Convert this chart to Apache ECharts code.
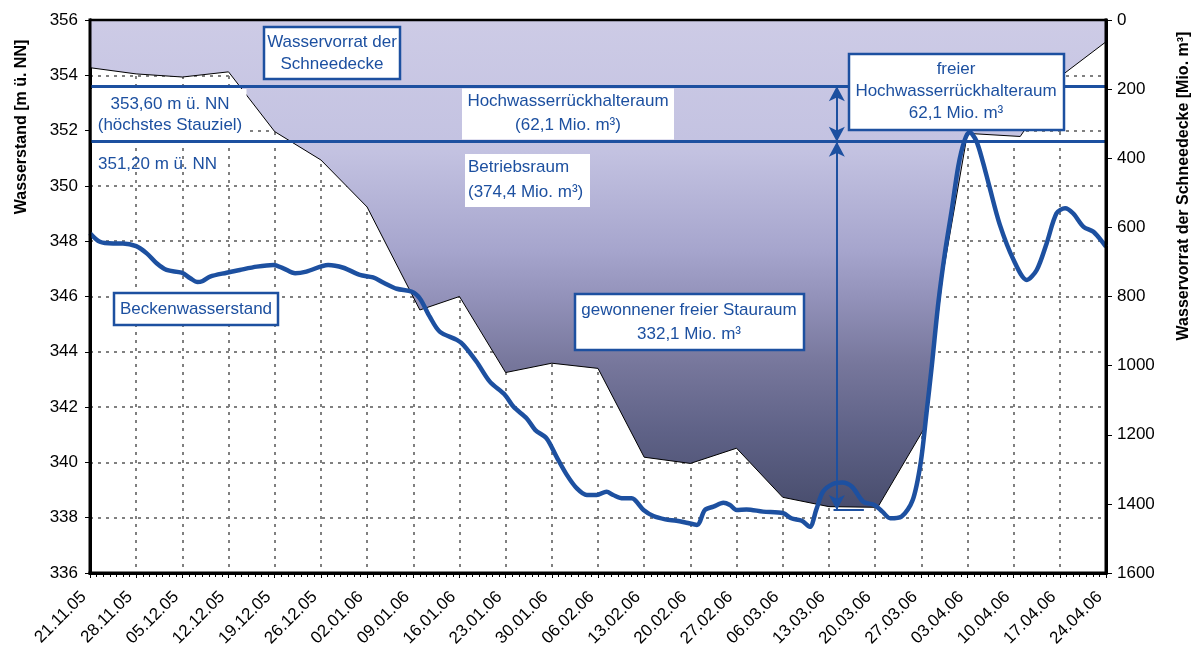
<!DOCTYPE html>
<html><head><meta charset="utf-8">
<script src="https://cdn.jsdelivr.net/npm/echarts@6/dist/echarts.min.js"></script>
<style>html,body{margin:0;padding:0;background:#fff}#c{width:1200px;height:662px}</style>
</head><body><div id="c"></div>
<script>
// x axis: days since 21.11.05, tick labels every 7 days
const dateLabels = ['21.11.05','28.11.05','05.12.05','12.12.05','19.12.05','26.12.05','02.01.06','09.01.06','16.01.06','23.01.06','30.01.06','06.02.06','13.02.06','20.02.06','27.02.06','06.03.06','13.03.06','20.03.06','27.03.06','03.04.06','10.04.06','17.04.06','24.04.06'];

// Beckenwasserstand [m ü. NN]
const levelDays = [0,1.5,3.5,5,7,8.6,10.1,11.6,13.9,15.2,16.3,17,18.2,20.7,22.7,25.3,27.8,29.3,31.1,32.8,36.1,38.4,40.9,42.9,44.5,46.5,48.8,50,51.5,53,55.6,56.6,58.6,60.6,62.9,64.2,66.2,67.5,69.2,70.7,72.3,73.8,75.3,76.8,78.3,79.3,80.8,82.1,83.9,85.4,87.2,88.9,90.4,92,93.2,94.5,96,97,98,99.5,102,105.1,106.3,107.9,109.1,110.1,111.1,112.6,114,115.5,117.2,118.9,120.1,121.3,123,124.7,125.9,126.8,127.6,128.6,129.6,130.6,131.6,132.5,133.3,134.3,135.3,136.3,137.9,140,142,143.5,145,146.5,147.8,149,150.6,152.1,154];
const levelValues = [348.29,347.98,347.92,347.92,347.82,347.56,347.2,346.96,346.86,346.66,346.52,346.55,346.72,346.86,346.96,347.08,347.14,347.02,346.84,346.9,347.14,347.04,346.78,346.69,346.5,346.28,346.17,345.93,345.27,344.73,344.43,344.25,343.64,342.92,342.44,342.01,341.59,341.17,340.87,340.21,339.54,339.06,338.82,338.82,338.94,338.82,338.7,338.7,338.28,338.06,337.94,337.89,337.82,337.74,338.28,338.4,338.54,338.46,338.28,338.3,338.22,338.16,337.98,337.89,337.67,338.3,338.94,339.22,339.27,339.12,338.58,338.46,338.22,337.98,338.04,338.64,339.97,341.8,343.5,345.8,347.6,349.1,350.7,351.6,351.95,351.65,350.9,350.0,348.6,347.32,346.6,346.96,347.92,349.01,349.19,349.01,348.52,348.34,347.8];

// Wasservorrat der Schneedecke [Mio. m³]
const snowDays = [0,7,14,21,28,35,42,50,56,63,70,77,84,91,98,105,112,119.4,126.5,129.3,133,141,147.3,154];
const snowValues = [138,156,165,150,323,405,541,839,800,1020,993,1008,1265,1283,1239,1381,1408,1410,1180,733,328,337,160,63];

// reference levels and arrow annotation (data units)
const levelTop = 353.6;
const levelLow = 351.6;
const arrowDay = 113.2;
const arrowBottom = 338.28;
const baseDays = [112.7, 117.3];

const BLUE = '#1d50a0';
const FONT = '"Liberation Sans", Arial, sans-serif';

const chart = echarts.init(document.getElementById('c'), null, {renderer: 'canvas'});

const levelData = levelDays.map((d, i) => [d, levelValues[i]]);
const snowData = snowDays.map((d, i) => [d, snowValues[i]]);

function txt(x, y, text, align, opts) {
  return Object.assign({
    type: 'text', z: 110,
    style: { x: x, y: y, text: text, fill: BLUE, font: '17px ' + FONT,
      textAlign: align || 'center', textVerticalAlign: 'middle' }
  }, opts || {});
}
function box(x, y, w, h, border) {
  return { type: 'rect', z: 105,
    shape: { x: x, y: y, width: w, height: h },
    style: { fill: '#fff', stroke: border ? BLUE : null, lineWidth: border ? 2.5 : 0 } };
}
function frameLine(x1, y1, x2, y2, w) {
  return { type: 'line', z: 120, shape: { x1, y1, x2, y2 }, style: { stroke: '#000', lineWidth: w } };
}

const option = {
  animation: false,
  backgroundColor: '#fff',
  grid: { left: 90, right: 94, top: 20, bottom: 89 },
  xAxis: {
    type: 'value', min: 0, max: 154, interval: 7,
    axisLine: { show: true, onZero: false, lineStyle: { color: '#000', width: 3 } },
    axisTick: { show: true, length: 5, lineStyle: { color: '#000', width: 1 } },
    minorTick: { show: true, splitNumber: 7, length: 4, lineStyle: { color: '#000', width: 1 } },
    axisLabel: {
      rotate: 45, margin: 15, padding: [0, 9, 0, 0], color: '#000', fontSize: 17, fontFamily: FONT,
      formatter: v => dateLabels[Math.round(v / 7)] || ''
    },
    splitLine: { show: true, lineStyle: { color: '#808080', width: 2, type: [3, 5] } }
  },
  yAxis: [
    {
      type: 'value', min: 336, max: 356, interval: 2, position: 'left',
      axisLine: { show: true, lineStyle: { color: '#000', width: 3 } },
      axisTick: { show: true, length: 5, lineStyle: { color: '#000', width: 1 } },
      axisLabel: { color: '#000', fontSize: 17, fontFamily: FONT, margin: 12, formatter: v => String(v) },
      splitLine: { show: true, lineStyle: { color: '#808080', width: 2, type: [3, 5] } }
    },
    {
      type: 'value', min: 0, max: 1600, interval: 200, position: 'right', inverse: true,
      axisLine: { show: true, lineStyle: { color: '#000', width: 3 } },
      axisTick: { show: true, length: 6, lineStyle: { color: '#000', width: 1 } },
      axisLabel: { color: '#000', fontSize: 17, fontFamily: FONT, margin: 11, formatter: v => String(v) },
      splitLine: { show: false }
    }
  ],
  series: [
    {
      name: 'Wasservorrat der Schneedecke', type: 'line', yAxisIndex: 1, z: 2,
      data: snowData, symbol: 'none', smooth: false,
      lineStyle: { color: '#000', width: 1 },
      areaStyle: {
        origin: 'start', opacity: 1,
        color: new echarts.graphic.LinearGradient(0, 20, 0, 510, [
          { offset: 0, color: '#cdcbe6' },
          { offset: 0.27, color: '#c3c2e1' },
          { offset: 0.47, color: '#a6a5cd' },
          { offset: 0.57, color: '#9291b9' },
          { offset: 0.70, color: '#77779c' },
          { offset: 0.84, color: '#5f6287' },
          { offset: 1, color: '#484d6d' }
        ], true)
      }
    },
    {
      name: 'Beckenwasserstand', type: 'line', yAxisIndex: 0, z: 4,
      data: levelData, symbol: 'none', smooth: 0.3,
      lineStyle: { color: BLUE, width: 4.5 }
    },
    {
      name: 'Marken', type: 'line', yAxisIndex: 0, z: 3, data: [],
      markLine: {
        silent: true, symbol: ['none', 'none'], label: { show: false },
        lineStyle: { color: BLUE, width: 3, type: 'solid' },
        data: [
          { yAxis: levelTop },
          { yAxis: levelLow },
          [ { coord: [arrowDay, levelTop], symbol: 'arrow', symbolSize: [12, 15], lineStyle: { width: 2 } },
            { coord: [arrowDay, levelLow], symbol: 'arrow', symbolSize: [12, 15] } ],
          [ { coord: [arrowDay, levelLow], symbol: 'arrow', symbolSize: [12, 15], lineStyle: { width: 2 } },
            { coord: [arrowDay, arrowBottom], symbol: 'arrow', symbolSize: [12, 15] } ],
          [ { coord: [baseDays[0], arrowBottom], symbol: 'none', lineStyle: { width: 2 } },
            { coord: [baseDays[1], arrowBottom], symbol: 'none' } ]
        ]
      }
    }
  ],
  graphic: [
    // frame on top of series
    frameLine(90, 20, 1106, 20, 2.5),
    frameLine(90, 18.5, 90, 574.5, 3),
    frameLine(1106, 18.5, 1106, 574.5, 3),
    frameLine(88.5, 573, 1107.5, 573, 3),
    // axis names
    { type: 'text', z: 110, x: 22, y: 127, rotation: Math.PI / 2,
      style: { x: 0, y: 0, text: 'Wasserstand [m ü. NN]', fill: '#000', font: 'bold 16px ' + FONT, textAlign: 'center', textVerticalAlign: 'middle' } },
    { type: 'text', z: 110, x: 1184, y: 186, rotation: Math.PI / 2,
      style: { x: 0, y: 0, text: 'Wasservorrat der Schneedecke [Mio. m³]', fill: '#000', font: 'bold 16px ' + FONT, textAlign: 'center', textVerticalAlign: 'middle' } },
    // annotation boxes
    box(264, 27, 136, 52, true),
    txt(332, 42, 'Wasservorrat der'),
    txt(332, 64, 'Schneedecke'),
    box(91.5, 89, 155, 51, false),
    txt(170, 104, '353,60 m ü. NN'),
    txt(170, 125, '(höchstes Stauziel)'),
    txt(98, 164, '351,20 m ü. NN', 'left'),
    box(462, 88.5, 212, 51, false),
    txt(568, 101, 'Hochwasserrückhalteraum'),
    txt(568, 125, '(62,1 Mio. m³)'),
    box(465, 154, 125, 53, false),
    txt(468, 167, 'Betriebsraum', 'left'),
    txt(468, 192, '(374,4 Mio. m³)', 'left'),
    box(849, 54, 215, 76, true),
    txt(956, 69, 'freier'),
    txt(956, 91, 'Hochwasserrückhalteraum'),
    txt(956, 113, '62,1 Mio. m³'),
    box(114, 293, 164, 32, true),
    txt(196, 309, 'Beckenwasserstand'),
    box(575, 294, 229, 56, true),
    txt(689, 310, 'gewonnener freier Stauraum'),
    txt(689, 334, '332,1 Mio. m³')
  ]
};
chart.setOption(option);
</script></body></html>
